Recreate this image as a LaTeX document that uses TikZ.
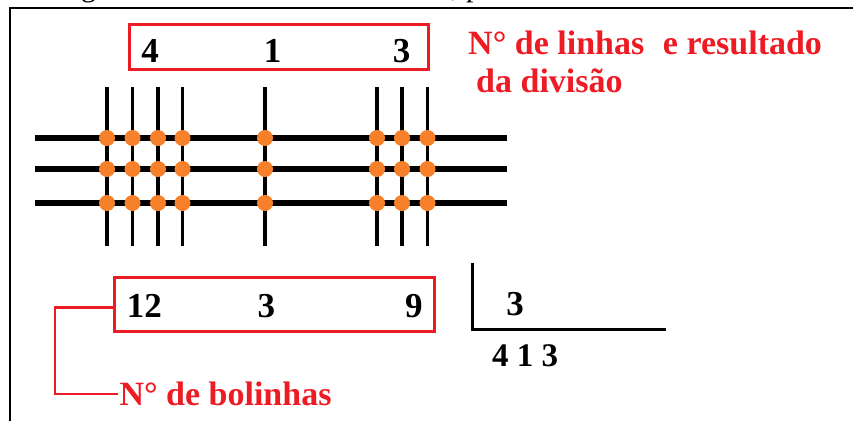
\documentclass[tikz,border=0pt]{standalone}
\usepackage{fontspec}
\setmainfont{Liberation Serif}
\definecolor{lblred}{HTML}{ED1C24}
\definecolor{dotor}{HTML}{F7812A}
\begin{document}
\begin{tikzpicture}[x=1pt,y=-1pt,
  redbox/.style={draw=lblred, line width=3pt, inner sep=0pt},
  redline/.style={draw=lblred, line width=2.8pt},
  digit/.style={anchor=base, inner sep=0pt, font=\fontsize{35}{40}\selectfont\bfseries},
  redlbl/.style={anchor=base west, inner sep=0pt, text=lblred, font=\fontsize{34}{40}\selectfont\bfseries},
  hline/.style={line width=5.5pt},
  vline/.style={line width=3.3pt},
  dot/.style={fill=dotor},
  frameline/.style={line width=2pt},
  divline/.style={line width=3pt}]
\useasboundingbox (0,0) rectangle (853,421);
% cut-off text above the frame
\begin{scope}
\clip (0,0) rectangle (853,6.5);
\node[anchor=base west, inner sep=0pt, font=\fontsize{30}{36}\selectfont] (frg1) at (81,-3.2) {g};
\node[anchor=base west, inner sep=0pt, font=\fontsize{30}{36}\selectfont] (frg2) at (451,-3.2) {, p};
\end{scope}
% frame
\draw[frameline] (9.5,421) -- (9.5,8) -- (853,8);
% top box
\node[redbox, minimum width=298.7pt, minimum height=44.7pt] (topbox) at (279.2,47.2) {};
\node[digit] (t4) at (150,62.7) {4};
\node[digit] (t1) at (272.5,62.7) {1};
\node[digit] (t3) at (401.5,62.7) {3};
% top label
\node[redlbl] (lab1) at (468,54.3) {N° de linhas\hspace{0.3em} e resultado};
\node[redlbl] (lab2) at (476,92.7) {da divisão};
% grid
\foreach \yy in {138,169,203} \draw[hline] (35,\yy) -- (507,\yy);
\foreach \xx in {107,132.5,158,182.5,265,377,402,427.5} {
  \draw[vline] (\xx,87) -- (\xx,246);
  \foreach \yy in {138,169,203} \fill[dot] (\xx,\yy) circle (8);
}
% bottom box
\node[redbox, minimum width=319.7pt, minimum height=53.7pt] (botbox) at (274.7,304.3) {};
\node[digit] (b12) at (144.3,317.7) {12};
\node[digit] (b3) at (266.3,317.7) {3};
\node[digit] (b9) at (413.8,317.7) {9};
% bolinhas label and bracket
\node[redlbl, inner xsep=1.5pt] (bol) at (117.8,405.7) {N° de bolinhas};
\coordinate (brk) at (55,307.7);
\draw[redline] (botbox.west |- brk) -- (brk) |- (bol.west);
% division
\coordinate (dtop) at (472.7,263.3);
\coordinate (dcorner) at (472.7,329.5);
\coordinate (dend) at (666,329.5);
\draw[divline] (dtop) -- (dcorner) -- (dend);
\node[digit] (d3) at (515,315) {3};
\node[anchor=base west, inner sep=0pt, font=\fontsize{33}{40}\selectfont\bfseries] (dq) at (492,366.7) {4 1 3};
\end{tikzpicture}
\end{document}
